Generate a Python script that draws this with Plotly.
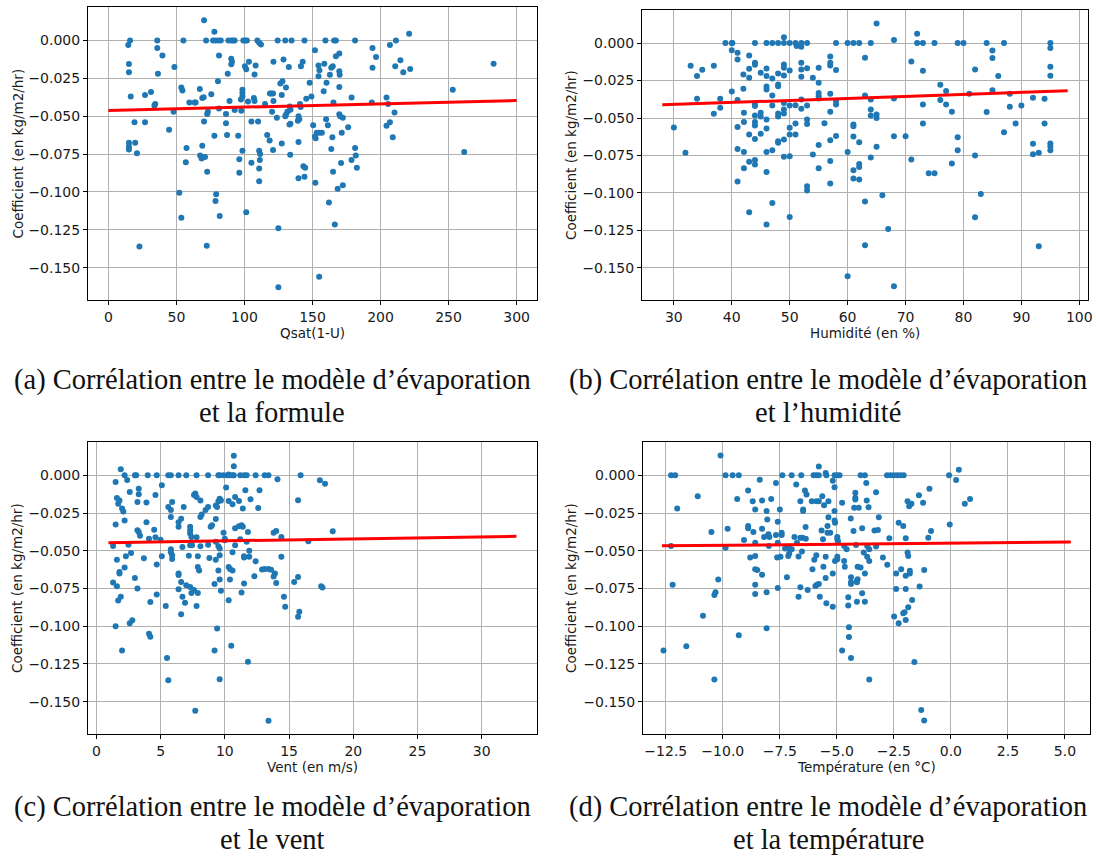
import plotly.graph_objects as go

# ---------------- data ----------------
qsat = [14.6, 15.9, 15.1, 15.1, 16.4, 15.1, 15.1, 15.1, 19.2, 19.7,
        21.0, 35.9, 35.9, 36.4, 39.7, 26.9, 26.9, 31.3, 33.8, 34.4,
        22.8, 44.6, 47.9, 48.5, 52.1, 53.6, 53.6, 54.4, 55.1, 57.4,
        56.9, 59.5, 63.3, 64.1, 67.2, 69.0, 70.0, 69.0, 67.4, 68.5,
        71.0, 70.3, 70.3, 71.8, 72.3, 72.6, 72.6, 73.1, 75.6, 77.9,
        76.9, 78.7, 80.8, 82.6, 78.7, 79.2, 77.9, 81.3, 80.5, 81.3,
        81.8, 86.4, 86.4, 87.2, 87.7, 88.2, 90.3, 91.5, 92.8, 90.3,
        90.8, 90.3, 89.0, 92.8, 95.4, 96.2, 96.2, 98.5, 98.5, 98.5,
        97.4, 97.7, 98.5, 99.2, 100.5, 101.8, 100.3, 101.3, 103.3, 101.3,
        102.6, 105.1, 105.1, 106.9, 107.4, 107.4, 108.2, 109.5, 110.8, 112.1,
        110.0, 110.8, 111.5, 111.3, 110.8, 110.8, 115.1, 116.7, 118.5, 118.7,
        119.7, 121.0, 121.3, 121.0, 121.3, 120.3, 123.8, 124.4, 124.9, 124.9,
        126.4, 127.9, 127.4, 128.7, 127.4, 130.0, 130.5, 131.5, 130.0, 130.5,
        132.6, 134.6, 133.3, 133.8, 133.8, 133.1, 133.6, 139.7, 140.3, 139.2,
        139.7, 139.7, 141.5, 142.8, 140.8, 141.3, 144.1, 143.3, 144.6, 144.1,
        145.4, 147.9, 149.2, 150.5, 151.8, 151.8, 152.3, 152.1, 154.4, 155.1,
        154.4, 154.9, 153.1, 155.1, 156.9, 158.2, 158.7, 159.5, 160.3, 160.0,
        161.3, 162.1, 162.8, 163.8, 164.9, 164.6, 163.8, 165.9, 167.2, 167.2,
        169.7, 165.4, 165.1, 166.4, 169.7, 170.0, 169.7, 169.7, 170.3, 172.3,
        168.5, 172.3, 171.0, 171.5, 176.2, 178.7, 181.3, 181.3, 181.8, 182.6,
        178.7, 193.6, 194.1, 194.1, 196.7, 204.4, 205.6, 204.4, 206.9, 206.9,
        209.0, 210.3, 210.8, 211.3, 214.6, 216.7, 221.0, 221.8, 253.1, 261.5,
        283.1]
coef_a = [-0.003, 0.0, -0.0155, -0.021, -0.037, -0.0675, -0.070, -0.072, -0.054, -0.0675,
          -0.0745, 0.0, -0.005, -0.022, -0.010, -0.036, -0.054, -0.034, -0.043, -0.042,
          -0.136, -0.059, -0.047, -0.0175, -0.1006, -0.117, -0.031, -0.033, 0.0, -0.071,
          -0.0805, -0.041, -0.041, -0.041, -0.032, -0.038, -0.0375, -0.0695, -0.076, -0.078,
          -0.077, -0.0535, 0.0133, 0.0, -0.1356, -0.0867, -0.0485, -0.047, -0.0356, 0.0058,
          0.0, 0.0, 0.0, 0.0, -0.106, -0.1015, -0.063, -0.010, -0.027, -0.045,
          -0.116, -0.0485, -0.0546, -0.0624, -0.0219, 0.0, 0.0, 0.0, 0.0, -0.012,
          -0.014, -0.0157, -0.040, -0.046, -0.063, -0.0785, -0.0874, -0.0325, -0.0347, -0.037,
          -0.039, -0.0465, -0.0728, 0.0, 0.0, 0.0, -0.017, -0.019, -0.014, -0.1135,
          -0.0403, -0.0535, -0.0807, -0.038, -0.040, -0.0225, -0.0166, 0.0, -0.0015, -0.0027,
          -0.0535, -0.0728, -0.075, -0.079, -0.0845, -0.093, -0.042, -0.0624, -0.066, -0.035,
          -0.035, -0.035, -0.014, -0.0723, -0.040, -0.047, -0.051, 0.0, -0.124, -0.163,
          -0.0285, -0.027, -0.036, -0.0126, -0.068, 0.0, -0.031, -0.047, -0.050, -0.049,
          -0.0175, 0.0, -0.0436, -0.0458, -0.055, -0.0555, -0.0755, -0.050, -0.052, -0.053,
          -0.067, -0.091, -0.017, -0.014, -0.042, -0.044, 0.0, -0.083, -0.084, -0.090,
          -0.0385, -0.028, -0.037, -0.056, -0.0064, -0.0635, -0.0646, -0.094, -0.0166, -0.0197,
          -0.0237, -0.156, -0.061, -0.061, -0.061, -0.0336, -0.0153, 0.0, -0.028, -0.052,
          -0.056, -0.107, -0.0226, -0.018, -0.017, -0.064, -0.0717, 0.0, 0.0, -0.0104,
          -0.0086, -0.041, -0.0867, -0.1215, -0.0204, -0.0226, -0.0308, -0.0487, -0.050, -0.051,
          -0.098, -0.0956, -0.081, -0.061, -0.0573, -0.0376, 0.0, -0.071, -0.076, -0.084,
          -0.079, -0.041, -0.0049, -0.018, -0.011, -0.0376, -0.042, -0.0564, -0.054, -0.003,
          -0.064, -0.0476, -0.017, 0.0, -0.013, -0.021, 0.0044, -0.0188, -0.0325, -0.0737,
          -0.0153]

humidite = [30, 32, 32.9, 34, 34, 34.9, 36.9, 36.9, 38, 38,
            38.9, 40, 40.1, 40, 40, 41, 41, 41, 41, 41,
            41, 42, 42, 42.1, 42.1, 42.1, 42.1, 43, 43, 43,
            43, 43, 43, 44, 44, 44, 44, 44, 44, 44,
            44, 44, 44, 44, 45, 45, 45, 45, 46, 47,
            46, 46, 46, 46, 46, 46, 46, 46, 46, 47,
            47, 47, 47, 47, 48, 49, 48, 48, 48, 48,
            48, 48, 48, 49, 49, 49, 49, 49, 49, 49,
            49, 49, 50, 51, 51.2, 50, 50, 50, 50, 50,
            50, 51, 51, 51, 52, 52, 53, 52, 52, 52,
            52, 52, 53, 53, 53, 53, 53, 53, 54, 54,
            55, 55, 55, 55, 55, 55, 55, 56, 57, 57,
            57, 57, 57, 57, 57, 57, 58, 58, 58, 58,
            58, 60, 61, 62, 60, 60, 61, 61, 61, 61,
            61, 62, 62, 62, 62, 63, 63, 63, 63, 64,
            64, 64, 64, 64, 65, 65, 65, 65, 66, 67,
            68, 68, 68, 68, 70, 71, 71, 72, 72, 73,
            73, 73, 73, 74, 75, 75, 76, 76, 77, 77,
            78, 78, 79, 80, 79, 79, 81, 82, 82, 82,
            83, 84, 84, 85, 85, 85, 86, 87, 87, 88,
            88, 89, 90, 92, 92, 92, 93, 93, 94, 94,
            95, 95, 95, 95, 95, 95, 95]
coef_b = [-0.0563, -0.0732, -0.0151, -0.022, -0.0372, -0.0178, -0.0151, -0.0472, -0.0372, -0.0432,
          0.0, 0.0, 0.0, -0.0047, -0.0323, -0.0065, -0.0109, -0.038, -0.056, -0.0706,
          -0.0924, -0.021, -0.0305, -0.0465, -0.0527, -0.0726, -0.0835, -0.0082, -0.0171, -0.0231,
          -0.061, -0.0792, -0.1128, 0.0, -0.0131, -0.0145, -0.041, -0.042, -0.0483, -0.0527,
          -0.055, -0.0639, -0.078, -0.081, -0.0198, -0.0465, -0.049, -0.0605, 0.0, 0.0,
          -0.0169, -0.022, -0.029, -0.031, -0.051, -0.057, -0.0726, -0.086, -0.121, -0.0236,
          -0.0416, -0.035, -0.0714, -0.1066, 0.0, 0.0, -0.0203, -0.0276, -0.0287, -0.047,
          -0.049, -0.0654, -0.0665, 0.004, -0.0142, -0.0165, -0.0216, -0.040, -0.0443, -0.047,
          -0.0643, -0.0759, 0.0, 0.0, -0.002, -0.0183, -0.0416, -0.0565, -0.061, -0.0755,
          -0.116, -0.0414, -0.0536, -0.061, 0.0, -0.0025, 0.0, -0.0131, -0.0176, -0.0225,
          -0.0376, -0.0438, -0.0167, -0.0416, -0.051, -0.054, -0.0955, -0.0984, -0.0231, -0.0743,
          -0.0165, -0.0265, -0.0332, -0.0354, -0.037, -0.068, -0.0835, -0.0534, -0.0089, -0.0131,
          -0.0149, -0.0338, -0.0458, -0.0648, -0.0786, -0.0937, 0.0, -0.018, -0.0387, -0.041,
          -0.062, 0.0, 0.0, 0.0, -0.0726, -0.1556, -0.0543, -0.0554, -0.0623, -0.0848,
          -0.0904, -0.0661, -0.0806, -0.0826, -0.091, -0.0098, -0.035, -0.1057, -0.1349, 0.0,
          -0.0376, -0.0443, -0.0483, -0.0763, 0.0131, -0.0476, -0.0499, -0.0692, -0.1015, -0.124,
          0.002, -0.037, -0.0621, -0.1623, -0.0621, -0.0122, -0.0777, 0.0062, 0.0, 0.0,
          -0.0185, -0.041, -0.0536, -0.0868, -0.0868, 0.0, -0.0278, -0.038, -0.032, -0.041,
          -0.0458, -0.0803, 0.0, 0.0, -0.0628, -0.0714, -0.0338, -0.0176, -0.075, -0.1162,
          -0.1006, 0.0, -0.046, -0.0049, -0.01, -0.0314, -0.022, 0.0, -0.0594, -0.0338,
          -0.0425, -0.0536, -0.0416, -0.0365, -0.0672, -0.0741, -0.0732, -0.1355, -0.0372, -0.0536,
          0.0, -0.0033, -0.0158, -0.0218, -0.067, -0.0688, -0.0714]

vent = [1.9, 1.5, 1.5, 1.3, 1.3, 1.5, 1.6, 1.6, 1.8, 1.7,
        1.8, 1.8, 1.6, 1.7, 1.9, 2.0, 2.0, 2.1, 2.2, 2.4,
        2.2, 2.3, 2.2, 2.5, 2.6, 2.7, 2.6, 2.8, 3.0, 3.1,
        3.0, 3.2, 3.2, 3.3, 3.3, 3.2, 3.3, 3.4, 3.7, 3.9,
        3.9, 4.0, 4.7, 4.1, 4.2, 4.2, 4.1, 4.6, 4.5, 4.6,
        4.7, 4.7, 5.0, 5.1, 5.1, 5.4, 5.5, 5.6, 5.6, 5.8,
        5.6, 5.8, 5.9, 5.8, 5.8, 5.9, 5.9, 5.8, 6.4, 7.0,
        7.8, 8.7, 6.4, 6.4, 6.4, 6.4, 6.4, 6.6, 6.7, 6.9,
        6.6, 6.6, 6.8, 6.7, 7.0, 7.2, 7.3, 7.3, 7.3, 7.4,
        7.3, 7.45, 7.3, 7.4, 7.6, 7.6, 7.7, 7.8, 7.7, 7.8,
        7.9, 7.9, 8.0, 7.9, 7.8, 8.1, 8.1, 8.2, 8.1, 8.5,
        8.7, 8.7, 8.8, 8.9, 9.0, 9.2, 9.2, 9.3, 9.3, 9.3,
        9.4, 9.3, 9.4, 9.5, 9.6, 9.9, 9.5, 9.6, 9.7, 9.5,
        9.6, 9.6, 9.5, 9.6, 9.6, 9.7, 9.9, 10.0, 10.0, 10.1,
        10.2, 10.3, 10.4, 10.6, 10.7, 10.3, 10.4, 10.3, 10.4, 10.5,
        10.3, 10.7, 10.7, 10.6, 10.8, 10.6, 10.8, 10.6, 10.8, 11.1,
        11.3, 11.4, 11.1, 11.2, 11.5, 11.7, 12.4, 13.1, 13.4, 11.2,
        11.3, 11.4, 11.5, 11.5, 11.5, 11.6, 11.7, 11.8, 11.8, 11.9,
        11.9, 12.0, 12.3, 12.4, 12.6, 12.7, 12.9, 13.1, 13.4, 13.6,
        13.4, 13.8, 13.9, 14.0, 13.8, 14.0, 14.1, 14.4, 14.4, 14.6,
        14.7, 15.4, 15.7, 15.7, 15.7, 15.8, 15.9, 16.5, 17.4, 17.8,
        17.5, 17.6, 18.4]
coef_c = [0.004, -0.0044, -0.0326, -0.0468, -0.071, -0.100, -0.056, -0.015, -0.0166, -0.0188,
          -0.064, -0.065, -0.0735, -0.083, -0.0805, -0.116, -0.022, -0.024, 0.0, -0.003,
          -0.030, -0.0536, -0.061, -0.046, -0.011, -0.0514, -0.098, -0.096, 0.0, 0.0,
          -0.068, -0.075, -0.0176, -0.0088, -0.0126, -0.0364, -0.0375, -0.040, -0.055, -0.018,
          -0.031, 0.0, 0.0, -0.105, -0.107, -0.084, -0.042, -0.013, -0.036, -0.041,
          -0.059, -0.079, -0.0426, -0.0066, -0.0536, -0.0865, -0.121, -0.1357, 0.0, 0.0,
          -0.021, -0.023, -0.0176, -0.0276, -0.049, -0.053, -0.0555, -0.051, 0.0, 0.0,
          0.0, 0.0, -0.034, -0.031, -0.065, -0.066, -0.0755, -0.0706, -0.0805, -0.0845,
          -0.092, -0.0287, -0.021, -0.0474, -0.0728, -0.0532, -0.034, -0.0364, -0.0386, -0.0408,
          -0.0463, -0.0463, -0.074, -0.078, -0.076, -0.013, -0.012, -0.0143, -0.156, -0.041,
          -0.0536, -0.0607, -0.063, -0.078, -0.0865, -0.0166, -0.0276, -0.026, -0.047, -0.023,
          -0.021, -0.046, -0.0547, -0.034, -0.033, -0.072, -0.116, -0.044, -0.056, -0.020,
          -0.021, -0.029, -0.1015, 0.0, 0.0, 0.0, -0.0172, -0.0155, -0.0166, -0.047,
          -0.0485, -0.053, -0.063, -0.069, -0.1352, -0.0765, -0.038, -0.042, -0.043, -0.008,
          0.0, 0.0005, 0.0, 0.0, 0.0, -0.0607, -0.062, -0.0827, -0.069, -0.113,
          -0.017, 0.013, 0.006, -0.0192, -0.0143, -0.051, -0.0463, -0.063, -0.035, -0.0338,
          -0.033, -0.034, -0.017, 0.0, 0.0, 0.0, 0.0, 0.0, 0.0, -0.0424,
          -0.0777, -0.022, -0.0536, -0.0545, -0.0717, -0.0099, -0.044, -0.0375, -0.1235, -0.050,
          -0.054, -0.0159, -0.0668, -0.057, -0.0216, -0.0099, -0.0624, -0.062, -0.062, -0.0625,
          -0.1626, -0.067, -0.065, -0.0713, -0.038, -0.0368, -0.0026, -0.0408, -0.054, -0.0805,
          -0.087, -0.0706, -0.0673, -0.0165, -0.0937, -0.0904, 0.0, -0.0437, -0.0033, -0.0055,
          -0.0735, -0.0743, -0.037]

temperature = [-12.6, -12.27, -12.09, -12.27, -12.2, -12.0, -11.6, -11.1, -10.87, -10.5,
               -10.37, -10.37, -10.32, -10.2, -10.1, -9.88, -9.57, -9.3, -9.88, -9.79,
               -9.37, -9.3, -9.07, -8.89, -8.89, -8.89, -8.8, -8.69, -8.66, -8.58,
               -8.58, -8.58, -8.58, -8.49, -8.58, -8.58, -8.38, -8.28, -8.28, -8.28,
               -8.19, -8.08, -8.05, -8.08, -8.08, -8.0, -7.96, -7.98, -7.88, -7.67,
               -7.67, -7.62, -7.59, -7.59, -7.59, -7.5, -7.47, -7.42, -7.42, -7.39,
               -7.27, -7.19, -7.13, -7.09, -7.09, -6.98, -6.98, -6.86, -6.78, -6.75,
               -6.68, -6.68, -6.6, -6.6, -6.51, -6.6, -6.56, -6.53, -6.48, -6.48,
               -6.4, -6.33, -6.37, -6.36, -6.28, -6.1, -6.07, -6.02, -5.9, -5.79,
               -5.99, -5.94, -5.87, -5.79, -5.9, -5.9, -5.79, -5.79, -5.75, -5.67,
               -5.64, -5.61, -5.56, -5.59, -5.49, -5.46, -5.49, -5.49, -5.46, -5.41,
               -5.41, -5.37, -5.37, -5.29, -5.18, -5.18, -5.18, -5.1, -4.98, -4.88,
               -5.1, -5.1, -5.1, -5.08, -5.08, -4.98, -4.98, -4.95, -4.98, -4.98,
               -4.77, -4.77, -4.68, -4.68, -4.57, -4.65, -4.5, -4.5, -4.47, -4.47,
               -4.39, -4.38, -4.38, -4.38, -4.38, -4.27, -4.24, -4.19, -4.19, -4.19,
               -4.16, -4.12, -4.12, -4.09, -4.12, -4.09, -4.04, -3.96, -3.96, -3.77,
               -3.89, -3.89, -3.82, -3.77, -3.77, -3.71, -3.69, -3.67, -3.67, -3.61,
               -3.58, -3.58, -3.58, -3.35, -3.28, -3.28, -3.2, -3.16, -2.98, -2.79,
               -2.7, -2.8, -2.65, -2.5, -2.35, -2.2, -2.07, -2.49, -2.4, -2.4,
               -2.29, -2.29, -2.18, -2.09, -2.09, -2.03, -1.98, -1.98, -1.98, -1.98,
               -1.9, -1.9, -1.87, -1.87, -1.83, -1.8, -1.8, -1.73, -1.7, -1.6,
               -1.4, -1.37, -1.3, -1.22, -1.17, -1.17, -0.99, -0.94, -0.87, -0.08,
               -0.05, 0.23, 0.35, 0.61, 0.84]
coef_d = [-0.116, 0.0, 0.0, -0.0468, -0.0725, -0.022, -0.1133, -0.0138, -0.093, -0.0376,
          -0.1353, -0.0793, -0.0775, -0.069, 0.0132, 0.0, 0.0, 0.0, -0.0479, -0.0354,
          -0.0156, -0.106, -0.0428, -0.0101, -0.0336, -0.0351, -0.0545, -0.0171, -0.0376, -0.0226,
          -0.0446, -0.0534, -0.0622, -0.0628, -0.0725, -0.0786, -0.0029, -0.0167, -0.0354, -0.0659,
          -0.0409, -0.0237, -0.0292, -0.0775, -0.1013, -0.0391, -0.0409, -0.0468, -0.0156, -0.0051,
          -0.0395, -0.0545, -0.0307, -0.0446, -0.0747, -0.0226, -0.054, -0.0395, -0.038, 0.0,
          -0.0485, -0.0676, -0.0534, -0.0518, -0.0483, 0.0, -0.049, -0.0409, -0.0061, -0.0446,
          -0.0804, -0.0538, -0.0171, -0.0413, -0.0413, -0.0742, 0.0, -0.0505, -0.0226, -0.0237,
          -0.0101, -0.0127, -0.0343, -0.042, -0.076, -0.0171, -0.0622, 0.0, 0.0, 0.0,
          -0.056, -0.0734, -0.0725, -0.072, -0.0529, -0.0171, -0.0171, 0.0059, -0.0804, -0.0365,
          -0.0138, -0.0424, -0.0198, -0.0606, 0.0015, 0.0, -0.054, -0.068, -0.0848, -0.0336,
          -0.038, -0.0171, -0.0277, -0.038, -0.0035, -0.087, -0.065, 0.0, 0.0, 0.0,
          -0.0079, -0.0237, -0.0299, -0.0314, -0.0567, -0.0409, -0.0424, -0.0439, -0.054, -0.0556,
          -0.0182, -0.116, -0.0567, -0.0468, -0.049, -0.0606, -0.0808, -0.0863, -0.1006, -0.1072,
          -0.0286, -0.0676, -0.0709, -0.072, -0.121, -0.0369, -0.0215, -0.0116, -0.0149, -0.016,
          -0.0461, -0.0698, -0.0709, -0.0688, -0.0837, -0.0606, -0.0215, -0.0611, 0.0, 0.0,
          -0.0351, -0.0782, -0.0512, -0.065, -0.0837, -0.0051, -0.0167, -0.0468, -0.054, -0.0211,
          -0.0567, -0.1353, -0.049, -0.0365, -0.0112, -0.0472, -0.0362, -0.0277, -0.0545, -0.0593,
          -0.0417, 0.0, 0.0, 0.0, 0.0, 0.0, 0.0, -0.0936, -0.065, -0.0753,
          -0.0314, -0.098, -0.0622, -0.0336, -0.0914, -0.0907, -0.0417, -0.0666, -0.0753, -0.0958,
          -0.0171, -0.0512, -0.0534, -0.0874, -0.0204, -0.065, -0.0633, -0.0189, -0.0826, -0.1237,
          -0.0132, -0.0736, -0.1555, -0.0182, -0.0628, -0.1625, -0.0413, -0.0088, -0.0369, 0.0,
          -0.0325, -0.0031, 0.0037, -0.0189, -0.0156]

# regression lines (end points)
fit_a_x = [0, 300]
fit_a_y = [-0.0462, -0.0397]
fit_b_x = [28, 98]
fit_b_y = [-0.0412, -0.0318]
fit_c_x = [0.94, 32.7]
fit_c_y = [-0.0446, -0.0404]
fit_d_x = [-12.67, 5.26]
fit_d_y = [-0.0467, -0.0442]

x_titles = ["Qsat(1-U)", "Humidité (en %)", "Vent (en m/s)", "Température (en °C)"]
y_title = "Coefficient (en kg/m2/hr)"
captions = [
    ("(a) Corrélation entre le modèle d’évaporation", "et la formule"),
    ("(b) Corrélation entre le modèle d’évaporation", "et l’humidité"),
    ("(c) Corrélation entre le modèle d’évaporation", "et le vent"),
    ("(d) Corrélation entre le modèle d’évaporation", "et la température"),
]
y_ticks = [0.0, -0.025, -0.05, -0.075, -0.1, -0.125, -0.15]
x_ticks = [
    [0, 50, 100, 150, 200, 250, 300],
    [30, 40, 50, 60, 70, 80, 90, 100],
    [0, 5, 10, 15, 20, 25, 30],
    [-12.5, -10.0, -7.5, -5.0, -2.5, 0.0, 2.5, 5.0],
]
x_ranges = [[-15, 315], [24.5, 101.5], [-0.65, 34.3], [-13.5, 6.1]]
y_range = [-0.1714, 0.0221]

# ---------------- layout helpers ----------------
W, H = 1096, 860
# plot-frame boxes in pixels: (left, right, top, bottom)
boxes = [(88, 537, 7, 300), (642, 1088, 10, 300),
         (88, 537, 442, 734), (643, 1090, 442, 734)]

BLUE = "#1f77b4"
fig = go.Figure()
panels = [(qsat, coef_a, fit_a_x, fit_a_y), (humidite, coef_b, fit_b_x, fit_b_y),
          (vent, coef_c, fit_c_x, fit_c_y), (temperature, coef_d, fit_d_x, fit_d_y)]

tick_font = dict(family="DejaVu Sans", size=14, color="#1a1a1a")
title_font = dict(family="DejaVu Sans", size=13.5, color="#1a1a1a")
cap_font = dict(family="Liberation Serif", size=28.5, color="#111111")

layout = {}
annotations = []
for i, ((xs, ys, fx, fy), box) in enumerate(zip(panels, boxes)):
    n = "" if i == 0 else str(i + 1)
    xa, ya = "x" + n, "y" + n
    fig.add_trace(go.Scatter(x=xs, y=ys, mode="markers", xaxis=xa, yaxis=ya,
                             marker=dict(color=BLUE, size=6, line=dict(width=0)),
                             showlegend=False))
    fig.add_trace(go.Scatter(x=fx, y=fy, mode="lines", xaxis=xa, yaxis=ya,
                             line=dict(color="red", width=3), showlegend=False))
    l, r, t, b = box
    common = dict(showline=True, mirror=True, linecolor="black", linewidth=1,
                  showgrid=True, gridcolor="#b0b0b0", gridwidth=1, zeroline=False,
                  ticks="outside", ticklen=4, tickcolor="black", tickwidth=1,
                  tickfont=tick_font, automargin=False)
    layout["xaxis" + n] = dict(common, domain=[l / W, r / W], anchor=ya,
                               range=x_ranges[i], tickvals=x_ticks[i],
                               tickformat=".1f" if i == 3 else "d")
    layout["yaxis" + n] = dict(common, domain=[1 - b / H, 1 - t / H], anchor=xa,
                               range=y_range, tickvals=y_ticks, tickformat=".3f")
    cx = (l + r) / 2
    # x-axis title
    annotations.append(dict(text=x_titles[i], x=cx / W, y=1 - (b + 33) / H,
                            xref="paper", yref="paper", showarrow=False,
                            font=title_font, xanchor="center", yanchor="middle"))
    # y-axis title
    ytx = 17 if i % 2 == 0 else 571
    annotations.append(dict(text=y_title, x=ytx / W, y=1 - ((t + b) / 2) / H,
                            xref="paper", yref="paper", showarrow=False,
                            font=title_font, textangle=-90,
                            xanchor="center", yanchor="middle"))
    # caption
    capx = 272 if i % 2 == 0 else 828
    capy1 = 380 if i < 2 else 807
    annotations.append(dict(text=captions[i][0], x=capx / W, y=1 - capy1 / H,
                            xref="paper", yref="paper", showarrow=False,
                            font=cap_font, xanchor="center", yanchor="middle"))
    annotations.append(dict(text=captions[i][1], x=capx / W, y=1 - (capy1 + 32) / H,
                            xref="paper", yref="paper", showarrow=False,
                            font=cap_font, xanchor="center", yanchor="middle"))

fig.update_layout(**layout)
fig.update_layout(width=W, height=H, margin=dict(l=0, r=0, t=0, b=0),
                  paper_bgcolor="white", plot_bgcolor="white",
                  annotations=annotations, showlegend=False)

fig.write_html("out.html")
